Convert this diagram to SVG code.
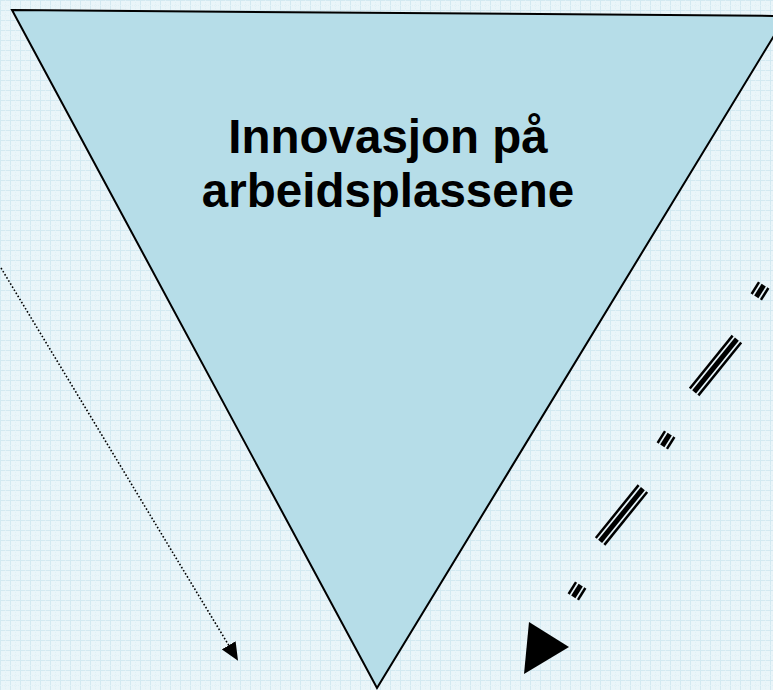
<svg xmlns="http://www.w3.org/2000/svg" width="773" height="690" viewBox="0 0 773 690">
<style>
.tri{fill:#b6dde8;stroke:#000;stroke-width:2;stroke-linejoin:miter}
.lbl{font-family:"Liberation Sans",Arial,sans-serif;font-weight:bold;font-size:47.5px;fill:#000;text-anchor:middle}
.dot{fill:none;stroke:#000;stroke-width:1.6;stroke-dasharray:1.6 2}
.thin{stroke:#000;stroke-width:2.5}
.thick{stroke:#000;stroke-width:5}
</style>
<defs>
<pattern id="grid" width="10" height="10" patternUnits="userSpaceOnUse">
<rect width="10" height="10" fill="#eaf5f9"/>
<path d="M0 0.5H10M0.5 0V10" stroke="#d3e9f1" stroke-width="1" fill="none"/>
<path d="M0 5.5H10M5.5 0V10" stroke="#e0f0f6" stroke-width="1" fill="none" stroke-dasharray="1 1"/>
</pattern>
<marker id="ah" markerWidth="18" markerHeight="16" refX="16" refY="8" orient="auto" markerUnits="userSpaceOnUse" viewBox="0 0 18 16">
<path d="M0 0L18 8L0 16z" fill="#000"/>
</marker>
<g id="longdash">
<line class="thin" x1="-34" y1="-5.5" x2="34" y2="-5.5"/>
<line class="thick" x1="-34" y1="0" x2="34" y2="0"/>
<line class="thin" x1="-34" y1="5.5" x2="34" y2="5.5"/>
</g>
<g id="shortdash">
<line class="thin" x1="-7" y1="-5.5" x2="7" y2="-5.5"/>
<line class="thick" x1="-7" y1="0" x2="7" y2="0"/>
<line class="thin" x1="-7" y1="5.5" x2="7" y2="5.5"/>
</g>
</defs>
<rect width="773" height="690" fill="url(#grid)"/>
<g id="node-triangle">
<polygon class="tri" points="12,10 786,16 377,688"/>
<text class="lbl" x="388" y="153">Innovasjon på</text>
<text class="lbl" x="388" y="207">arbeidsplassene</text>
</g>
<g id="connectors">
<path class="dot" d="M1 268L237 659" marker-end="url(#ah)"/>
<use href="#shortdash" transform="translate(760,291) rotate(-58)"/>
<use href="#longdash" transform="translate(715.5,365.5) rotate(-51)"/>
<use href="#shortdash" transform="translate(666,440) rotate(-58)"/>
<use href="#longdash" transform="translate(621.5,515) rotate(-51)"/>
<use href="#shortdash" transform="translate(577,591) rotate(-58)"/>
<polygon points="529,622 524,674 569,647" fill="#000"/>
</g>
</svg>
